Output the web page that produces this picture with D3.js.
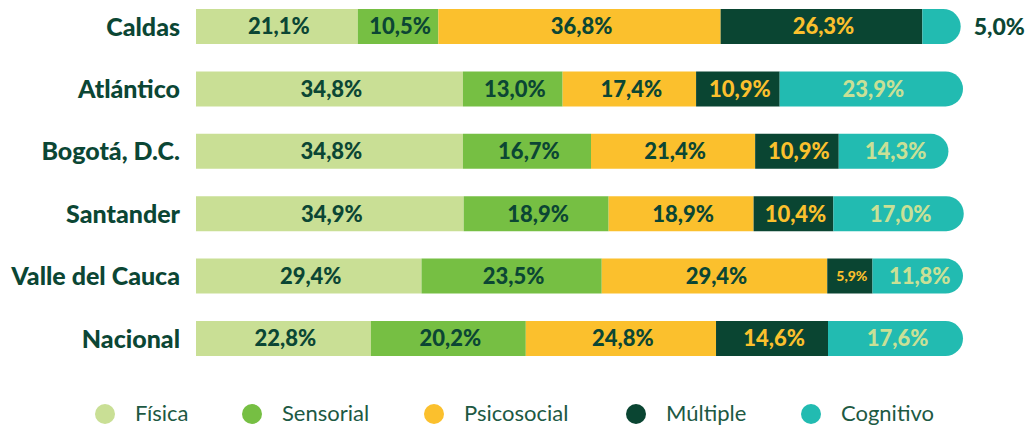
<!DOCTYPE html>
<html>
<head>
<meta charset="utf-8">
<script src="https://cdn.jsdelivr.net/npm/d3@7"></script>
<style>
  body { margin: 0; background: #fff; }
  svg { display: block; font-family: Lato, "Noto Sans", sans-serif; }
  .row-label { font-size: 25px; font-weight: 900; fill: #0b4634; }
  .value { font-weight: 900; }
  .legend-text { font-size: 22px; font-weight: 400; fill: #1d5943; }
</style>
</head>
<body>
<div id="wrapper"></div>
<script>
// Data
const regions = ["Caldas", "Atlántico", "Bogotá, D.C.", "Santander", "Valle del Cauca", "Nacional"]
const categories = ["Física", "Sensorial", "Psicosocial", "Múltiple", "Cognitivo"]
const fisica      = [21.1, 34.8, 34.8, 34.9, 29.4, 22.8]
const sensorial   = [10.5, 13.0, 16.7, 18.9, 23.5, 20.2]
const psicosocial = [36.8, 17.4, 21.4, 18.9, 29.4, 24.8]
const multiple    = [26.3, 10.9, 10.9, 10.4, 5.9, 14.6]
const cognitivo   = [5.0, 23.9, 14.3, 17.0, 11.8, 17.6]

const seriesValues = [fisica, sensorial, psicosocial, multiple, cognitivo]
const colors = ["#c9df95", "#76bf43", "#fbc02d", "#0a4532", "#22bbb1"]
const labelColors = ["#0b4634", "#0b4634", "#0b4634", "#fbc02d", "#c9e096"]

const rows = regions.map((region, i) => {
  const row = { region }
  categories.forEach((c, j) => row[c] = seriesValues[j][i])
  return row
})

// dimensions
const dimensions = {
  width: 1027,
  height: 425,
  barLeft: 196,
  barTop: 9,
  barHeight: 35,
  rowStep: 62.4,
}

const wrapper = d3.select("#wrapper")
  .append("svg")
    .attr("width", dimensions.width)
    .attr("height", dimensions.height)

// scales
const xScale = d3.scaleLinear()
  .domain([0, 100])
  .range([dimensions.barLeft, dimensions.barLeft + 767])

const yScale = d3.scaleBand()
  .domain(regions)
  .range([dimensions.barTop, dimensions.barTop + dimensions.rowStep * (regions.length - 1) + dimensions.barHeight])
  .paddingInner(1 - dimensions.barHeight / dimensions.rowStep)
  .paddingOuter(0)

const stacked = d3.stack().keys(categories)(rows)

// segment shape: last one gets a rounded right end
function segmentPath(x0, x1, y, h, rounded) {
  if (!rounded) return `M${x0},${y}H${x1}V${y + h}H${x0}Z`
  const r = Math.min(h / 2, x1 - x0)
  return `M${x0},${y}H${x1 - r}A${r},${r} 0 0 1 ${x1},${y + r}` +
    `V${y + h - r}A${r},${r} 0 0 1 ${x1 - r},${y + h}H${x0}Z`
}

const layers = wrapper.append("g").selectAll("g")
  .data(stacked)
  .join("g")
    .attr("fill", (d, i) => colors[i])

layers.selectAll("path")
  .data(d => d.map(s => ({ s, key: d.key, idx: d.index })))
  .join("path")
    .attr("d", d => segmentPath(
      xScale(d.s[0]), xScale(d.s[1]),
      yScale(d.s.data.region), yScale.bandwidth(),
      d.idx === categories.length - 1
    ))

// value labels
const fmt = v => d3.format(".1f")(v).replace(".", ",") + "%"

layers.selectAll("text")
  .data(d => d.map(s => ({ s, key: d.key, idx: d.index })))
  .join("text")
    .attr("class", "value")
    .each(function(d) {
      const w = xScale(d.s[1]) - xScale(d.s[0])
      const sel = d3.select(this)
      const yMid = yScale(d.s.data.region) + yScale.bandwidth() / 2
      if (w < 40) {
        // too narrow: put it after the bar
        sel.attr("x", xScale(d.s[1]) + 13)
          .attr("text-anchor", "start")
          .attr("fill", "#0b4634")
          .style("font-size", "23px")
      } else {
        sel.attr("x", (xScale(d.s[0]) + xScale(d.s[1])) / 2 + 2)
          .attr("text-anchor", "middle")
          .attr("fill", labelColors[d.idx])
          .style("font-size", w < 60 ? "14px" : "22px")
      }
      sel.attr("y", yMid).attr("dy", "0.36em")
    })
    .text(d => fmt(d.s.data[d.key]))

// row labels
wrapper.append("g").selectAll("text")
  .data(regions)
  .join("text")
    .attr("class", "row-label")
    .attr("x", 180)
    .attr("y", d => yScale(d) + yScale.bandwidth() / 2)
    .attr("dy", "0.36em")
    .attr("text-anchor", "end")
    .text(d => d)

// legend
const legendX = [105, 252, 434, 636, 811]
const legend = wrapper.append("g").selectAll("g")
  .data(categories)
  .join("g")
    .attr("transform", (d, i) => `translate(${legendX[i]}, 414)`)
legend.append("circle")
  .attr("r", 10)
  .attr("fill", (d, i) => colors[i])
legend.append("text")
  .attr("class", "legend-text")
  .attr("x", 30)
  .attr("dy", "0.34em")
  .text(d => d)
</script>
</body>
</html>
